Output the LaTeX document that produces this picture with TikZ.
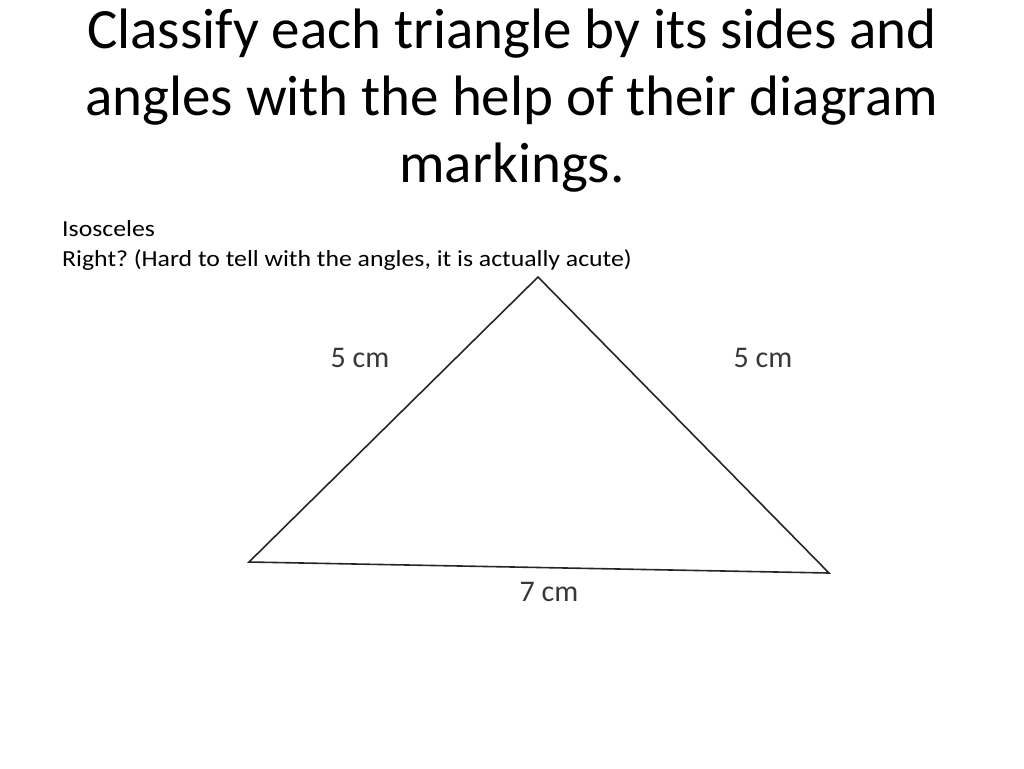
\documentclass[tikz,border=0pt]{standalone}
\usepackage{fontspec}
\setmainfont{Carlito}
\frenchspacing
\begin{document}
\begin{tikzpicture}[x=1pt,y=-1pt,
  title/.style={font=\fontsize{57}{67}\selectfont, align=center, text=black, inner sep=0},
  body/.style={font=\fontsize{23}{30}\selectfont, align=left, anchor=north west, inner sep=0},
  meas/.style={font=\fontsize{30}{34}\selectfont, text=black!78, inner sep=0},
  edge/.style={draw=black!85, line width=1.6pt, line join=miter}]
\useasboundingbox (0,0) rectangle (1024,768);
\node[title] (t) at (512,101) {Classify each triangle by its sides and\\angles with the help of their diagram\\markings.};
\node[body] (b) at (62,220) {\scalebox{1.12}[1]{Isosceles}\\\scalebox{1.12}[1]{Right? (Hard to tell with the angles, it is actually acute)}};
\coordinate (A) at (538,277);
\coordinate (B) at (249,562);
\coordinate (C) at (829,573);
\draw[edge] (A) -- (B) -- (C) -- cycle;
\node[meas] (l1) at (360,358) {5 cm};
\node[meas] (l2) at (763,358) {5 cm};
\node[meas] (l3) at (549,592) {7 cm};
\end{tikzpicture}
\end{document}
